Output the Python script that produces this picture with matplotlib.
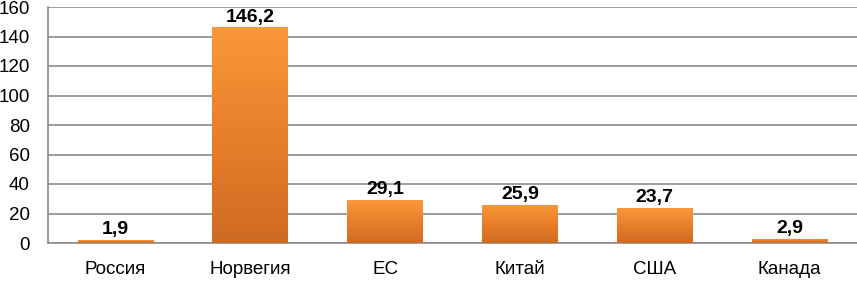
import matplotlib
matplotlib.use("Agg")
import matplotlib.pyplot as plt
import numpy as np
from matplotlib.colors import LinearSegmentedColormap

categories = ["Россия", "Норвегия", "ЕС", "Китай", "США", "Канада"]
values = [1.9, 146.2, 29.1, 25.9, 23.7, 2.9]
labels = ["1,9", "146,2", "29,1", "25,9", "23,7", "2,9"]
yticks = [0, 20, 40, 60, 80, 100, 120, 140, 160]

plt.rcParams['font.family'] = ['Liberation Sans', 'DejaVu Sans']

fig = plt.figure(figsize=(8.57, 2.83), dpi=100)
ax = fig.add_axes([48/857, 1-243/283, 809/857, 236/283])

x = np.arange(len(categories))
bars = ax.bar(x, values, width=0.56, color='none', edgecolor='none', zorder=3)
cmap = LinearSegmentedColormap.from_list('og', ['#CF6A22', '#E87F2A', '#F9983A'])
grad = np.linspace(0, 1, 256).reshape(-1, 1)
for b in bars:
    x0, y0 = b.get_x(), b.get_y()
    w, h = b.get_width(), b.get_height()
    im = ax.imshow(grad, cmap=cmap, aspect='auto', origin='lower',
                   extent=(x0, x0 + w, y0, y0 + h), zorder=3)
    im.set_clip_path(b)

for xi, v, lab in zip(x, values, labels):
    ax.text(xi, v + 1.2, lab, ha='center', va='bottom', fontsize=14,
            fontweight='bold', color='black', zorder=4)

ax.set_xlim(-0.5, len(categories) - 0.5)
ax.set_ylim(0, 160)
ax.set_yticks(yticks)
ax.set_yticklabels([str(t) for t in yticks], fontsize=13.5)
ax.set_xticks(x)
ax.set_xticklabels(categories, fontsize=13.5)
ax.tick_params(axis='y', length=0, pad=13)
ax.tick_params(axis='x', length=0, pad=13)
ax.yaxis.grid(True, color='#8c8c8c', linewidth=1.2, zorder=0)
ax.set_axisbelow(True)
for s in ['top', 'right']:
    ax.spines[s].set_visible(False)
for s in ['left', 'bottom']:
    ax.spines[s].set_color('#8c8c8c')
    ax.spines[s].set_linewidth(1.2)

fig.savefig("out.png", dpi=100)
